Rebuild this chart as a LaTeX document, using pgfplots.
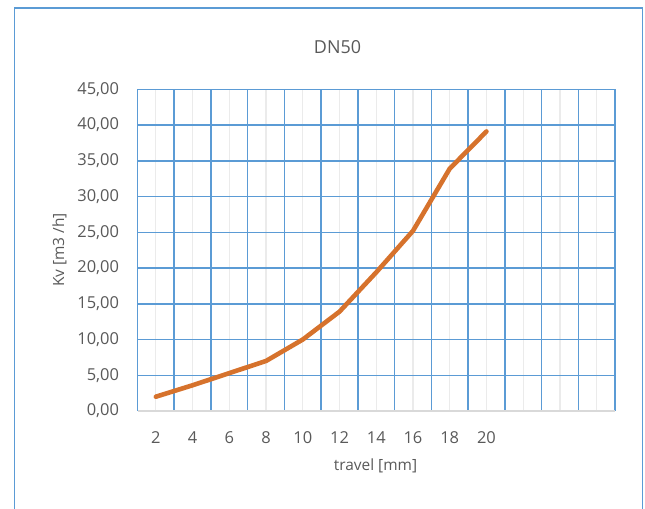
\documentclass[border=0pt]{standalone}
\usepackage{pgfplots}
\pgfplotsset{compat=1.18}
\usepackage{fontspec}
\setmainfont{Open Sans}
\definecolor{gblue}{RGB}{91,155,213}
\definecolor{ggray}{RGB}{235,235,235}
\definecolor{axgray}{RGB}{217,217,217}
\definecolor{txt}{RGB}{89,89,89}
\definecolor{lorange}{RGB}{214,114,44}
\begin{document}
\begin{tikzpicture}[x=1bp,y=1bp]
\useasboundingbox (0,0) rectangle (645,509);
\draw[gblue, line width=1.6bp] (14.5,-3) -- (14.5,501) -- (642.5,501) -- (642.5,-3);
\node[txt, font=\fontsize{18}{20}\selectfont] at (337.5,462) {DN50};
\node[txt, font=\fontsize{15.5}{17}\selectfont, rotate=90] at (59.5,259) {Kv [m3 /h]};
\node[txt, font=\fontsize{15.5}{17}\selectfont] at (375.5,43) {travel [mm]};
\begin{axis}[
  at={(137.5bp,98bp)}, anchor=south west,
  scale only axis, width=477.5bp, height=321.7bp,
  xmin=0.5, xmax=13.5, ymin=0, ymax=45,
  axis line style={draw=none},
  major tick length=0pt,
  xtick={1,2,3,4,5,6,7,8,9,10,11,12,13},
  xticklabels={2,4,6,8,10,12,14,16,18,20,{},{},{}},
  xmajorgrids,
  major grid style={draw=ggray, line width=1.2bp},
  extra x ticks={0.5,1.5,2.5,3.5,4.5,5.5,6.5,7.5,8.5,9.5,10.5,11.5,12.5,13.5},
  extra x tick labels={{},{},{},{},{},{},{},{},{},{},{},{},{},{}},
  extra x tick style={grid=major, major grid style={draw=gblue, line width=1.5bp}},
  ytick={0,5,10,15,20,25,30,35,40,45},
  ymajorgrids,
  y grid style={draw=gblue, line width=1.5bp},
  tick label style={txt, font=\fontsize{16.5}{18}\selectfont},
  xticklabel style={yshift=-17bp},
  yticklabel style={xshift=-15bp, /pgf/number format/.cd, fixed, fixed zerofill, precision=2, use comma, 1000 sep={}, assume math mode=true},
  clip=false,
]
\addplot[lorange, line width=4.6bp, line cap=round, line join=round] coordinates {
  (1,2.0) (2,3.6) (3,5.3) (4,7.0) (5,10.0) (6,13.9) (7,19.4) (8,25.2) (9,33.9) (10,39.1)
};
\draw[axgray, line width=1.4bp] (axis cs:0.5,0) -- (axis cs:13.5,0);
\end{axis}
\end{tikzpicture}
\end{document}
